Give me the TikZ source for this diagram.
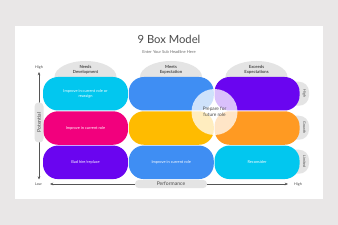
\documentclass[tikz,border=0pt]{standalone}
\usepackage{fontspec}
\setmainfont{Lato}
\usetikzlibrary{arrows.meta,positioning,shapes.geometric}
\definecolor{Backdrop}{HTML}{E9E7E7}
\definecolor{Dome}{HTML}{E4E4E4}
\definecolor{Ink}{HTML}{4A4A4A}
\definecolor{Axis}{HTML}{555555}
\definecolor{Cyan9}{HTML}{02C7EF}
\definecolor{Blue9}{HTML}{3F8EF3}
\definecolor{Violet9}{HTML}{6A05F0}
\definecolor{Magenta9}{HTML}{F2007D}
\definecolor{Amber9}{HTML}{FFBB00}
\definecolor{Orange9}{HTML}{FF9A22}

\begin{document}
\begin{tikzpicture}[x=0.05cm, y=-0.05cm,
    cell/.style={rectangle, rounded corners=0.75cm, minimum width=4.25cm, minimum height=1.675cm, inner sep=0pt, align=center, text=white, font=\fontsize{5.6}{6.8}\selectfont},
    dome/.style={ellipse, fill=Dome, minimum width=3.1cm, minimum height=1.6cm, inner sep=0pt},
    head/.style={align=center, text=Ink, inner sep=0pt, font=\fontsize{6}{7.2}\selectfont\bfseries},
    tab/.style={rectangle, rounded corners=0.5cm, fill=Dome, minimum width=1.2cm, minimum height=1.2cm, inner sep=0pt},
    tablabel/.style={rotate=-90, text=Ink, inner sep=0pt, font=\fontsize{5.2}{6}\selectfont},
    axislabel/.style={text=Ink, inner sep=0pt, font=\fontsize{5.2}{6}\selectfont},
    pill/.style={rectangle, rounded corners=0.2cm, fill=Dome, inner sep=0pt, text=Ink, font=\fontsize{7.2}{8}\selectfont},
    axis/.style={{Stealth[length=1.6mm,width=1.3mm]}-{Stealth[length=1.6mm,width=1.3mm]}, line width=0.9pt, Axis},
]
    % slide
    \fill[Backdrop] (0,0) rectangle (338,225);
    \useasboundingbox (0,0) rectangle (338,225);
    \fill[white] (15,26) rectangle (323,199);

    \node[text=Ink, inner sep=0pt, font=\fontsize{16}{18}\selectfont] (title) at (169,39) {9 Box Model};
    \node[text=Ink!80, inner sep=0pt, font=\fontsize{5.8}{7}\selectfont, below=0.35cm of title] (subtitle) {Enter Your Sub Headline Here};

    % column headers
    \node[dome] (d1) at (85.5,77) {};
    \node[dome] (d2) at (171,77) {};
    \node[dome] (d3) at (256.5,77) {};
    \node[head] (h1) at (85.5,69.5) {Needs\\Development};
    \node[head] (h2) at (171,69.5) {Meets\\Expectation};
    \node[head] (h3) at (256.5,69.5) {Exceeds\\Expectations};

    % row tabs
    \node[tab] (t1) at (297,93.75) {};
    \node[tab] (t2) at (297,127.75) {};
    \node[tab] (t3) at (297,161.75) {};
    \node[tablabel] (l1) at (304.5,93.75) {High};
    \node[tablabel] (l2) at (304.5,127.75) {Growth};
    \node[tablabel] (l3) at (304.5,161.75) {Limited};

    % grid
    \node[cell, fill=Cyan9] (c11) at (85.5,93.75) {Improve in current role or\\reassign};
    \node[cell, fill=Blue9, right=0.025cm of c11] (c12) {};
    \node[cell, fill=Violet9, right=0.025cm of c12] (c13) {};
    \node[cell, fill=Magenta9, below=0.025cm of c11] (c21) {Improve in current role};
    \node[cell, fill=Amber9, right=0.025cm of c21] (c22) {};
    \node[cell, fill=Orange9, right=0.025cm of c22] (c23) {};
    \node[cell, fill=Violet9, below=0.025cm of c21] (c31) {Bad hire/replace};
    \node[cell, fill=Blue9, right=0.025cm of c31] (c32) {Improve in current role};
    \node[cell, fill=Cyan9, right=0.025cm of c32] (c33) {Reconsider};

    \node[circle, fill=white, fill opacity=0.75, text opacity=1, minimum size=2.3cm, inner sep=0pt, align=center, text=Ink, font=\fontsize{6.8}{8}\selectfont] (core) at (214.5,112) {Prepare for\\future role};

    % axes
    \node[axislabel] (yhigh) at (39,67.5) {High};
    \node[axislabel] (low) at (38.5,184) {Low};
    \node[axislabel] (xhigh) at (298,184) {High};
    \coordinate (ytop) at (39,72);
    \coordinate (ybot) at (39,179.5);
    \coordinate (xleft) at (50,184);
    \coordinate (xright) at (288,184);
    \draw[axis] (ytop) -- (ybot);
    \draw[axis] (xleft) -- (xright);
    \node[pill, minimum width=2cm, minimum height=0.45cm, rotate=90] (pot) at (39,122.5) {Potential};
    \node[pill, minimum width=3.6cm, minimum height=0.42cm] (perf) at (171,184) {Performance};
\end{tikzpicture}
\end{document}
